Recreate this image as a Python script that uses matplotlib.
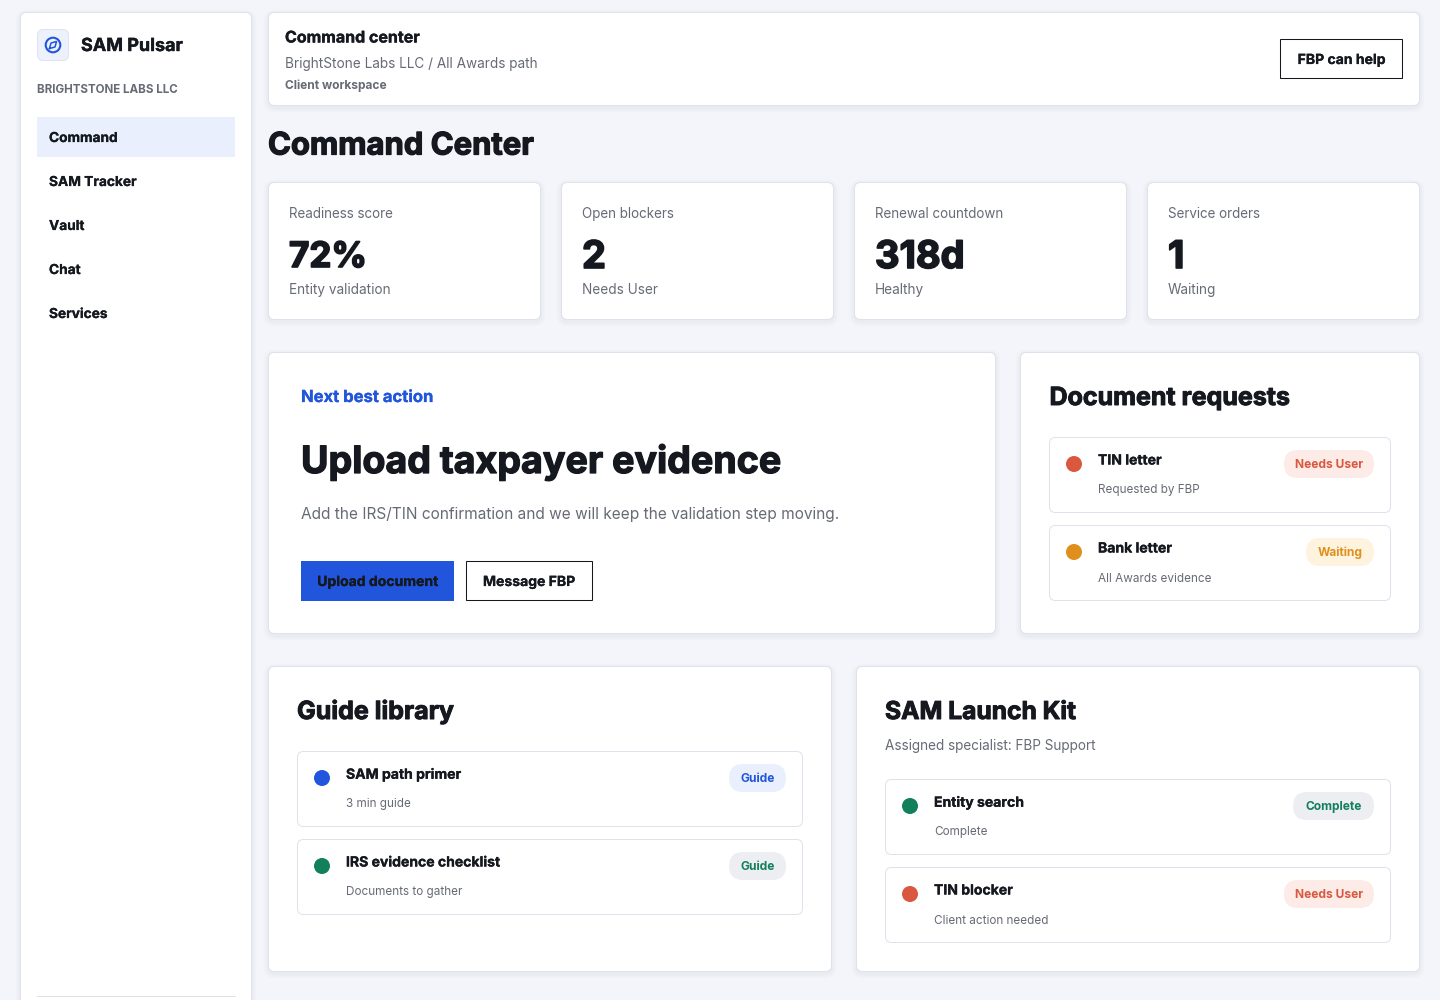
import matplotlib
matplotlib.use("Agg")
import matplotlib.pyplot as plt
from matplotlib.patches import FancyBboxPatch, Rectangle, Circle
import matplotlib.patheffects as pe

# colours
BG = "#f3f5fa"
BORDER = "#dfe2ea"
INK = "#15181e"
GREY = "#676b75"
BLUE = "#2156dc"
RED = "#d9583f"
ORANGE = "#e0901a"
GREEN = "#12805a"

# text
nav_items = ["Command", "SAM Tracker", "Vault", "Chat", "Services"]
stat_labels = ["Readiness score", "Open blockers", "Renewal countdown", "Service orders"]
stat_values = ["72%", "2", "318d", "1"]
stat_sizes = [35, 38, 38, 38]
stat_notes = ["Entity validation", "Needs User", "Healthy", "Waiting"]
doc_titles = ["TIN letter", "Bank letter"]
doc_notes = ["Requested by FBP", "All Awards evidence"]
doc_tags = ["Needs User", "Waiting"]
guide_titles = ["SAM path primer", "IRS evidence checklist"]
guide_notes = ["3 min guide", "Documents to gather"]
guide_tags = ["Guide", "Guide"]
kit_titles = ["Entity search", "TIN blocker"]
kit_notes = ["Complete", "Client action needed"]
kit_tags = ["Complete", "Needs User"]

FONT = "Inter"

fig = plt.figure(figsize=(14.4, 10), dpi=100, facecolor=BG)
ax = fig.add_axes([0, 0, 1, 1])
ax.set_xlim(0, 1440)
ax.set_ylim(1000, 0)
ax.axis("off")


def box(x, y, w, h, r=6, fc="white", ec=BORDER, lw=0.72, z=2, shadow=False):
    x, y, w, h = x + 0.5, y + 0.5, w - 1, h - 1
    if shadow:
        for i in range(1, 6):
            ax.add_patch(FancyBboxPatch((x - i, y - i + 2), w + 2 * i, h + 2 * i,
                                        boxstyle="round,pad=0,rounding_size=%g" % (r + i),
                                        fc="#1a2340", ec="none", alpha=0.006, zorder=z - 0.5))
    ax.add_patch(FancyBboxPatch((x, y), w, h, boxstyle="round,pad=0,rounding_size=%g" % r,
                                fc=fc, ec=ec, lw=lw, zorder=z))


def label(x, y, s, px, color=INK, weight="normal", bold=0.0, ha="left"):
    t = ax.text(x, y + 1.5, s, fontsize=px * 0.72, color=color, family=FONT, weight=weight,
                ha=ha, va="center", zorder=5)
    if bold:
        t.set_path_effects([pe.withStroke(linewidth=bold, foreground=color)])
    return t


def row(x, y, w, title, note, tag, dot, tag_fg, tag_bg, tag_w):
    box(x, y, w, 76, r=6, ec=BORDER)
    ax.add_patch(Circle((x + 25, y + 27), 8, fc=dot, ec="none", zorder=4))
    label(x + 49, y + 22, title, 14, weight="bold", bold=0.2)
    label(x + 49, y + 52, note, 11.7, color=GREY)
    box(x + w - 17.5 - tag_w, y + 12.5, tag_w + 1, 29, r=14, fc=tag_bg, ec="none", z=3)
    label(x + w - 17 - tag_w / 2, y + 26.5, tag, 12, color=tag_fg, weight="bold", ha="center")


# sidebar
box(20, 12, 232, 1040, r=6, shadow=True)
box(37, 29, 32, 32, r=6, fc="#edf1fb", ec="#dde3f2", z=3)
ax.add_patch(Circle((53, 45), 7.3, fc="none", ec=BLUE, lw=1.5, zorder=4))
ax.plot([49.5, 55, 56.5, 51, 49.5], [48.5, 47, 41.5, 43, 48.5], color=BLUE, lw=1.1, zorder=4)
label(81, 45, "SAM Pulsar", 18, weight="bold", bold=0.3)
label(37, 88.5, "BRIGHTSTONE LABS LLC", 11.6, color=GREY, weight="bold")
ax.add_patch(Rectangle((37, 117), 198, 40, fc="#e9effd", ec="none", zorder=3))
for i in range(len(nav_items)):
    label(49, 136.5 + 44 * i, nav_items[i], 13.7, weight="bold", bold=0.15)
ax.plot([37, 235], [996, 996], color=BORDER, lw=0.72, zorder=4)

# top bar
box(268, 12, 1152, 94, r=6, shadow=True)
label(285, 36.5, "Command center", 16, weight="bold", bold=0.25)
label(285, 62.5, "BrightStone Labs LLC / All Awards path", 13.6, color=GREY)
label(285, 84.5, "Client workspace", 12, color=GREY, weight="bold")
ax.add_patch(Rectangle((1280, 39), 122, 39, fc="white", ec=INK, lw=0.75, zorder=3))
label(1341.5, 58.5, "FBP can help", 14, weight="bold", bold=0.15, ha="center")

label(268, 145, "Command Center", 31, weight="bold", bold=0.9)

# stat cards
for i in range(4):
    x = 268 + 293 * i
    box(x, 182, 273, 138, r=6, shadow=True)
    label(x + 21, 212.5, stat_labels[i], 13.45, color=GREY)
    label(x + 21, 256.5, stat_values[i], stat_sizes[i], weight="bold", bold=1.2)
    label(x + 21, 288.5, stat_notes[i], 13.6, color=GREY)

# next best action
box(268, 352, 728, 282, r=6, shadow=True)
label(301, 396, "Next best action", 16.6, color=BLUE, weight="bold", bold=0.2)
label(301, 461, "Upload taxpayer evidence", 37.6, weight="bold", bold=0.9)
label(301, 513.5, "Add the IRS/TIN confirmation and we will keep the validation step moving.", 15.45, color=GREY)
ax.add_patch(Rectangle((301, 561), 153, 40, fc=BLUE, ec="none", zorder=3))
label(377.5, 580.5, "Upload document", 14, weight="bold", bold=0.15, ha="center")
ax.add_patch(Rectangle((466, 561), 126, 39, fc="white", ec=INK, lw=0.75, zorder=3))
label(529, 580.5, "Message FBP", 14, weight="bold", bold=0.15, ha="center")

# document requests
box(1020, 352, 400, 282, r=6, shadow=True)
label(1049.5, 397, "Document requests", 25, weight="bold", bold=0.7)
row(1049, 437, 342, doc_titles[0], doc_notes[0], doc_tags[0], RED, RED, "#fcebe7", 90)
row(1049, 525, 342, doc_titles[1], doc_notes[1], doc_tags[1], ORANGE, ORANGE, "#fdf3df", 68)

# guide library
box(268, 666, 564, 306, r=6, shadow=True)
label(297, 710, "Guide library", 25, weight="bold", bold=0.7)
row(297, 751, 506, guide_titles[0], guide_notes[0], guide_tags[0], BLUE, BLUE, "#e9effd", 57)
row(297, 839, 506, guide_titles[1], guide_notes[1], guide_tags[1], GREEN, GREEN, "#eceef1", 57)

# launch kit
box(856, 666, 564, 306, r=6, shadow=True)
label(885, 711, "SAM Launch Kit", 24.6, weight="bold", bold=0.7)
label(885, 744.5, "Assigned specialist: FBP Support", 13.55, color=GREY)
row(885, 779, 506, kit_titles[0], kit_notes[0], kit_tags[0], GREEN, GREEN, "#eceef1", 81)
row(885, 867, 506, kit_titles[1], kit_notes[1], kit_tags[1], RED, RED, "#fcebe7", 90)

fig.savefig("out.png", dpi=100, facecolor=BG)
